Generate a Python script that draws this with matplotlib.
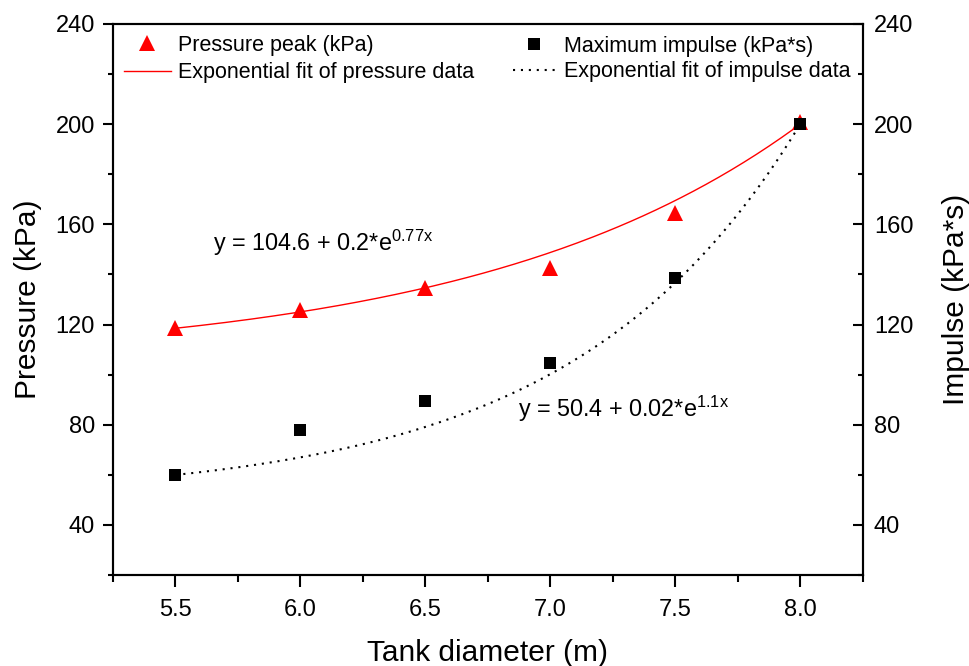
"""Blast pressure peak and impulse vs tank diameter, with exponential fits.

Writes out.png (969x666).
"""
import matplotlib
matplotlib.use("Agg")
import matplotlib.pyplot as plt
import numpy as np
from matplotlib.ticker import FormatStrFormatter, MultipleLocator

plt.rcParams["font.family"] = ["Liberation Sans", "DejaVu Sans"]

diameter = [5.5, 6.0, 6.5, 7.0, 7.5, 8.0]
pressure_peak = [118.8, 126.0, 134.6, 142.6, 164.5, 200.8]
max_impulse = [59.8, 77.8, 89.6, 104.8, 138.6, 200.0]

# y = a + b * exp(c * x), as reported on the chart
pressure_fit = (104.6, 0.2015, 0.77)
impulse_fit = (50.4, 0.02255, 1.1)

OUT_PATH = "out.png"


def exp_fit(params, x):
    a, b, c = params
    return a + b * np.exp(c * x)


def main() -> None:
    fig = plt.figure(figsize=(9.69, 6.66), dpi=100, facecolor="white")
    ax = fig.add_axes([0.1166, 0.1366, 0.7737, 0.8274])
    ax2 = ax.twinx()

    x_fit = np.linspace(diameter[0], diameter[-1], 200)

    ax.plot(x_fit, exp_fit(pressure_fit, x_fit), color="#ff0000", lw=1.0,
            label="Exponential fit of pressure data")
    ax.plot(diameter, pressure_peak, "^", color="#ff0000", ms=11.5,
            markeredgewidth=0, label="Pressure peak (kPa)")

    ax2.plot(x_fit, exp_fit(impulse_fit, x_fit), color="black", lw=1.5,
             ls=(0, (1, 2.8)), label="Exponential fit of impulse data")
    ax2.plot(diameter, max_impulse, "s", color="black", ms=9,
             markeredgewidth=0, label="Maximum impulse (kPa*s)")

    for a in (ax, ax2):
        a.set_xlim(5.25, 8.25)
        a.set_ylim(20, 240)
        a.yaxis.set_major_locator(MultipleLocator(40))
        a.yaxis.set_minor_locator(MultipleLocator(20))
        for spine in a.spines.values():
            spine.set_linewidth(1.5)

    ax.xaxis.set_major_locator(MultipleLocator(0.5))
    ax.xaxis.set_minor_locator(MultipleLocator(0.25))
    ax.set_xticks([5.5, 6.0, 6.5, 7.0, 7.5, 8.0])
    ax.xaxis.set_major_formatter(FormatStrFormatter("%.1f"))

    ax.tick_params(axis="x", which="major", direction="out", length=8.5,
                   width=1.5, labelsize=17, pad=8.5)
    ax.tick_params(axis="x", which="minor", direction="out", length=5,
                   width=1.5)
    ax.tick_params(axis="y", which="major", direction="out", length=7,
                   width=1.5, labelsize=17, pad=6)
    ax.tick_params(axis="y", which="minor", direction="out", length=3.6,
                   width=1.5)
    ax2.tick_params(axis="y", which="major", direction="in", length=7,
                    width=1.5, labelsize=17, pad=8)
    ax2.tick_params(axis="y", which="minor", direction="in", length=3.6,
                    width=1.5)

    ax.set_xlabel("Tank diameter (m)", fontsize=21.5, labelpad=13)
    ax.set_ylabel("Pressure (kPa)", fontsize=21.5, labelpad=10)
    ax2.set_ylabel("Impulse (kPa*s)", fontsize=21.5, labelpad=21)

    ax.text(5.65, 152.5, r"y = 104.6 + 0.2*e$\mathregular{^{0.77x}}$",
            fontsize=16.8, va="center", ha="left")
    ax.text(6.87, 86.5, r"y = 50.4 + 0.02*e$\mathregular{^{1.1x}}$",
            fontsize=16.8, va="center", ha="left")

    h1, l1 = ax.get_legend_handles_labels()
    ax.legend(h1[::-1], l1[::-1], loc="upper left", frameon=False,
              fontsize=15.5, handlelength=2.2, handletextpad=0.3,
              labelspacing=0.3, borderaxespad=0.1)
    h2, l2 = ax2.get_legend_handles_labels()
    ax2.legend(h2[::-1], l2[::-1], loc="upper right", frameon=False,
               fontsize=15.5, handlelength=2.0, handletextpad=0.4,
               labelspacing=0.2, borderaxespad=0.15)

    fig.savefig(OUT_PATH, dpi=100, facecolor="white")


if __name__ == "__main__":
    main()
